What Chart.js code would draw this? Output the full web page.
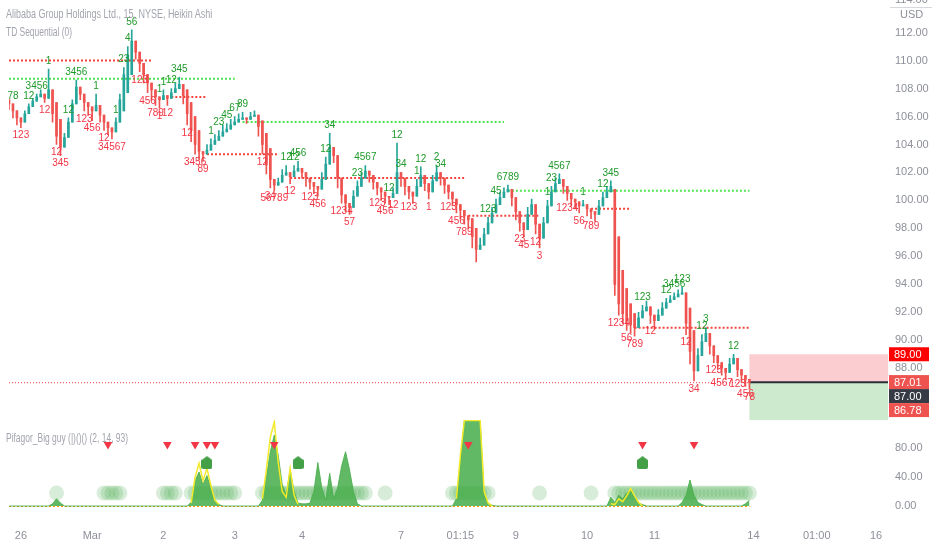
<!DOCTYPE html>
<html>
<head>
<meta charset="utf-8">
<script src="https://cdn.jsdelivr.net/npm/chart.js@4.4.1/dist/chart.umd.min.js"></script>
<style>
html, body { margin: 0; padding: 0; background: #fff; }
#wrap { position: relative; width: 932px; height: 550px; overflow: hidden; }
canvas { display: block; }
.lbl { position: absolute; left: 6px; color: #a2a5ad; font: 12px "Liberation Sans", sans-serif; white-space: nowrap; transform-origin: left center; }
.ax { position: absolute; color: #8d9099; font: 11px "Liberation Sans", sans-serif; white-space: nowrap; }
</style>
</head>
<body>
<div id="wrap">
  <canvas id="chart" width="932" height="550"></canvas>
  <div class="lbl" style="top:7px" data-w="206">Alibaba Group Holdings Ltd., 15, NYSE, Heikin Ashi</div>
  <div class="lbl" style="top:25px" data-w="66">TD Sequential (0)</div>
  <div class="lbl" style="top:431px" data-w="122">Pifagor_Big guy (|)()() (2, 14, 93)</div>
  <div class="ax" style="left:895px;top:-7px">114.00</div>
  <div style="position:absolute;left:890px;top:7px;width:42px;height:1px;background:#d6d8de"></div>
  <div class="ax" style="left:900px;top:8px">USD</div>
</div>
<script>
// x axis: bar slots (15 min bars, last part is empty future space)
const slots = 223;
const dateTicks = [[3, '26'], [21, 'Mar'], [39, '2'], [57, '3'], [74, '4'], [99, '7'], [114, '01:15'],
    [128, '9'], [146, '10'], [163, '11'], [188, '14'], [204, '01:00'], [219, '16']];

// Heikin Ashi bars: open, close, wick end (low for red bars, high for teal bars)
const openP = [
    107.2, 106.9, 106.4, 105.9, 105.6, 106.2, 106.7, 107.1, 107.4, 107.6,
    107.3, 107.9, 107.0, 105.8, 103.8, 104.5, 105.6, 106.9, 108.1, 107.6,
    107.0, 106.7, 106.4, 106.8, 106.1, 105.6, 105.2, 104.9, 105.6, 106.4,
    107.7, 109.0, 111.4, 110.6, 109.8, 109.0, 108.4, 107.9, 107.4, 107.2,
    107.5, 107.3, 107.7, 108.0, 108.3, 107.9, 107.0, 106.0, 105.0, 103.5,
    103.3, 103.6, 104.0, 104.3, 104.6, 104.9, 105.1, 105.4, 105.6, 105.8,
    105.9, 105.8, 106.0, 106.1, 105.7, 104.8, 103.7, 101.5, 101.1, 101.3,
    101.8, 102.0, 101.7, 102.1, 102.3, 102.0, 101.6, 101.3, 101.0, 100.8,
    101.5, 102.6, 103.8, 103.2, 101.6, 100.4, 99.8, 99.5, 100.3, 101.0,
    101.6, 102.1, 101.8, 101.3, 100.9, 100.6, 100.3, 100.2, 100.5, 102.0,
    101.6, 101.0, 100.6, 100.3, 101.0, 101.8, 101.2, 100.6, 101.4, 102.0,
    101.6, 101.1, 100.6, 100.1, 99.7, 99.3, 98.9, 98.7, 98.0, 96.5,
    96.8, 97.6, 98.4, 99.1, 99.7, 100.2, 100.6, 100.8, 100.2, 99.2,
    98.4, 97.9, 99.0, 99.7, 98.3, 97.3, 98.4, 99.6, 100.6, 101.2,
    101.5, 101.0, 100.5, 100.1, 99.9, 99.6, 99.7, 99.4, 99.2, 99.0,
    99.6, 100.2, 100.6, 100.8, 97.4, 95.0, 93.7, 92.6, 91.9, 90.9,
    91.6, 92.1, 92.4, 91.8, 91.4, 91.8, 92.3, 92.7, 92.9, 93.1,
    93.3, 93.4, 92.3, 90.7, 87.8, 88.9, 89.9, 90.5, 89.6, 88.9,
    88.4, 88.0, 87.7, 88.3, 88.7, 87.9, 87.5, 87.2
];
const closeP = [
    106.9, 106.4, 105.9, 105.6, 106.2, 106.7, 107.1, 107.4, 107.6, 107.3,
    107.9, 106.2, 104.6, 103.8, 104.5, 105.6, 106.9, 108.1, 107.6, 107.0,
    106.7, 106.4, 106.8, 106.1, 105.6, 105.2, 104.9, 105.6, 107.2, 109.0,
    110.4, 111.4, 110.6, 109.8, 109.0, 108.4, 107.9, 107.4, 107.2, 107.5,
    107.3, 107.7, 108.0, 108.3, 107.5, 106.2, 105.0, 104.0, 103.5, 103.3,
    103.6, 104.0, 104.3, 104.6, 104.9, 105.1, 105.4, 105.6, 105.8, 105.9,
    105.8, 106.0, 106.1, 105.3, 104.0, 102.6, 101.5, 101.1, 101.3, 101.8,
    102.0, 101.7, 102.1, 102.3, 102.0, 101.6, 101.3, 101.0, 100.8, 101.5,
    102.6, 103.8, 103.2, 101.6, 100.4, 99.8, 99.5, 100.3, 101.0, 101.6,
    102.1, 101.8, 101.3, 100.9, 100.6, 100.3, 100.2, 100.5, 102.0, 101.6,
    101.0, 100.6, 100.3, 101.0, 101.8, 101.2, 100.6, 101.4, 102.0, 101.6,
    101.1, 100.6, 100.1, 99.7, 99.3, 98.9, 98.6, 97.4, 96.5, 96.8,
    97.6, 98.4, 99.1, 99.7, 100.2, 100.6, 100.8, 100.2, 99.2, 98.4,
    97.9, 99.0, 99.7, 98.3, 97.3, 98.4, 99.6, 100.6, 101.2, 101.5,
    101.0, 100.5, 100.1, 99.9, 99.6, 99.7, 99.4, 99.2, 99.0, 99.6,
    100.2, 100.6, 101.0, 94.0, 92.6, 91.9, 91.4, 91.1, 90.9, 91.6,
    92.1, 92.4, 91.8, 91.4, 91.8, 92.3, 92.7, 92.9, 93.1, 93.3,
    93.4, 91.2, 89.2, 87.8, 88.9, 89.9, 90.5, 89.6, 88.9, 88.4,
    88.0, 87.7, 88.3, 88.7, 87.9, 87.5, 87.2, 87.0
];
const wickP = [
    106.5, 105.9, 105.4, 105.2, 106.4, 106.9, 107.3, 107.6, 107.9, 107.0,
    109.4, 105.6, 104.0, 103.2, 104.8, 105.9, 107.2, 108.6, 107.2, 106.4,
    106.1, 105.7, 107.6, 105.6, 105.0, 104.7, 104.4, 105.9, 107.6, 109.5,
    111.0, 112.2, 110.1, 109.2, 108.4, 107.7, 107.2, 106.8, 106.6, 107.9,
    106.8, 108.0, 108.4, 108.8, 106.9, 105.4, 104.2, 103.3, 102.9, 102.8,
    104.0, 104.4, 104.7, 105.0, 105.4, 105.5, 105.8, 106.0, 106.2, 106.3,
    105.5, 106.3, 106.4, 104.6, 103.3, 101.9, 100.9, 100.7, 101.6, 102.2,
    102.5, 101.2, 102.5, 102.8, 101.6, 101.0, 100.8, 100.5, 100.3, 102.0,
    103.1, 104.8, 102.7, 100.9, 99.8, 99.2, 99.0, 100.7, 101.4, 102.0,
    102.5, 101.3, 100.8, 100.4, 100.0, 99.8, 99.7, 100.9, 104.1, 101.0,
    100.4, 100.1, 99.8, 101.5, 102.4, 100.7, 100.1, 101.8, 102.5, 101.1,
    100.5, 100.1, 99.6, 99.1, 98.7, 98.3, 98.0, 96.6, 95.6, 97.3,
    98.0, 98.8, 99.5, 100.1, 100.6, 100.9, 101.1, 99.6, 98.6, 97.8,
    97.4, 99.5, 100.1, 97.6, 96.6, 98.8, 100.0, 101.0, 101.6, 101.9,
    100.5, 100.0, 99.6, 99.4, 99.1, 100.0, 98.9, 98.7, 98.5, 100.0,
    100.6, 101.0, 101.4, 93.2, 91.8, 91.2, 90.7, 90.5, 90.3, 92.0,
    92.5, 92.8, 91.2, 90.8, 92.2, 92.7, 93.0, 93.2, 93.4, 93.6,
    93.8, 90.4, 88.3, 87.1, 89.4, 90.4, 90.9, 89.0, 88.4, 87.9,
    87.5, 87.2, 88.7, 89.0, 87.4, 87.0, 86.7, 86.5
];

// dotted support / resistance levels: [from bar, to bar, price, colour]
const levels = [
    [0, 36, 110.0, 'r'], [0, 57, 108.7, 'g'], [41, 50, 107.4, 'r'], [50, 68, 103.3, 'r'],
    [59, 125, 105.6, 'g'], [71, 115, 101.6, 'r'], [116, 134, 98.9, 'r'], [126, 187, 100.7, 'g'],
    [147, 157, 99.4, 'r'], [158, 187, 90.9, 'r']
];

// TD Sequential counts: [bar, text, colour]
const tdCounts = [
    [1, '78', 'g'], [5, '12', 'g'], [7, '3456', 'g'], [10, '1', 'g'], [15, '12', 'g'], [17, '3456', 'g'],
    [22, '1', 'g'], [27, '1', 'g'], [29, '23', 'g'], [30, '4', 'g'], [31, '56', 'g'], [38, '1', 'g'],
    [39, '1', 'g'], [41, '12', 'g'], [43, '345', 'g'], [51, '1', 'g'], [53, '23', 'g'], [55, '45', 'g'],
    [57, '67', 'g'], [59, '89', 'g'], [70, '12', 'g'], [72, '12', 'g'], [73, '456', 'g'], [80, '12', 'g'],
    [81, '34', 'g'], [88, '23', 'g'], [90, '4567', 'g'], [96, '12', 'g'], [98, '12', 'g'], [99, '34', 'g'],
    [103, '1', 'g'], [104, '12', 'g'], [108, '2', 'g'], [109, '34', 'g'], [121, '123', 'g'], [123, '45', 'g'],
    [126, '6789', 'g'], [136, '1', 'g'], [137, '23', 'g'], [139, '4567', 'g'], [145, '1', 'g'],
    [150, '12', 'g'], [152, '345', 'g'], [160, '123', 'g'], [166, '12', 'g'], [168, '3456', 'g'],
    [170, '123', 'g'], [175, '12', 'g'], [176, '3', 'g'], [183, '12', 'g'],
    [3, '123', 'r'], [9, '12', 'r'], [12, '12', 'r'], [13, '345', 'r'], [19, '123', 'r'], [21, '456', 'r'],
    [24, '12', 'r'], [26, '34567', 'r'], [33, '123', 'r'], [35, '456', 'r'], [37, '789', 'r'], [38, '1', 'r'],
    [40, '12', 'r'], [45, '12', 'r'], [47, '3456', 'r'], [49, '89', 'r'], [64, '12', 'r'], [66, '34', 'r'],
    [67, '56789', 'r'], [71, '12', 'r'], [76, '123', 'r'], [78, '456', 'r'], [84, '1234', 'r'], [86, '57', 'r'],
    [93, '123', 'r'], [95, '456', 'r'], [97, '12', 'r'], [101, '123', 'r'], [106, '1', 'r'], [111, '123', 'r'],
    [113, '456', 'r'], [115, '789', 'r'], [129, '23', 'r'], [130, '45', 'r'], [133, '12', 'r'], [134, '3', 'r'],
    [141, '1234', 'r'], [144, '56', 'r'], [147, '789', 'r'], [154, '1234', 'r'], [156, '56', 'r'],
    [158, '789', 'r'], [162, '12', 'r'], [171, '12', 'r'], [173, '34', 'r'], [178, '123', 'r'],
    [180, '4567', 'r'], [184, '123', 'r'], [186, '456', 'r'], [187, '78', 'r']
];

// price axis
const priceTicks = [88, 90, 92, 94, 96, 98, 100, 102, 104, 106, 108, 110, 112];
const priceTags = [[89.00, '#ff0000'], [87.01, '#ef5350'], [87.00, '#363a45'], [86.78, '#ef5350']];
const zoneTop = 89.0, zoneMid = 87.0;

// lower indicator (Pifagor_Big guy)
const oscArea = [
    0, 0, 0, 0, 0, 0, 0, 0, 0, 0,
    0, 3, 10, 4, 0, 0, 0, 0, 0, 0,
    0, 0, 0, 0, 0, 0, 0, 0, 0, 0,
    0, 0, 0, 0, 0, 0, 0, 0, 0, 0,
    0, 0, 0, 0, 0, 0, 5, 35, 47, 30,
    42, 25, 8, 2, 0, 0, 0, 0, 0, 0,
    0, 0, 0, 0, 8, 40, 75, 98, 70, 30,
    15, 50, 20, 4, 3, 3, 4, 20, 60, 25,
    8, 45, 10, 25, 55, 75, 50, 20, 3, 0,
    0, 0, 0, 0, 0, 0, 0, 0, 0, 0,
    0, 0, 0, 0, 0, 0, 0, 0, 0, 0,
    0, 0, 0, 10, 60, 118, 118, 118, 118, 118,
    15, 4, 1, 0, 0, 0, 0, 0, 0, 0,
    0, 0, 0, 0, 0, 0, 0, 0, 0, 0,
    0, 0, 0, 0, 0, 0, 0, 0, 0, 0,
    0, 0, 12, 5, 15, 10, 18, 22, 12, 4,
    2, 0, 0, 0, 0, 0, 0, 0, 0, 0,
    5, 15, 36, 15, 5, 2, 0, 0, 0, 0,
    0, 0, 0, 0, 0, 0, 3, 8
];
const oscLine = [
    null, null, null, null, null, null, null, null, null, null,
    null, null, null, null, null, null, null, null, null, null,
    null, null, null, null, null, null, null, null, null, null,
    null, null, null, null, null, null, null, null, null, null,
    null, null, null, null, null, null, 4, 40, 59, 35,
    52, 28, 8, 2, null, null, null, null, null, null,
    null, null, null, null, 10, 50, 95, 116, 60, 20,
    12, 52, 15, 2, null, null, null, null, null, null,
    null, null, null, null, null, null, null, null, null, null,
    null, null, null, null, null, null, null, null, null, null,
    null, null, null, null, null, null, null, null, null, null,
    null, null, null, 10, 70, 118, 118, 118, 118, 118,
    20, 4, 0, null, null, null, null, null, null, null,
    null, null, null, null, null, null, null, null, null, null,
    null, null, null, null, null, null, null, null, null, null,
    null, null, 3, 2, 10, 6, 14, 24, 14, 5,
    0, null, null, null, null, null, null, null, null, null,
    null, null, null, null, null, null, null, null, null, null,
    null, null, null, null, null, null, null, null
];
const circleRuns = [[12, 12], [24, 28], [39, 42], [46, 57], [64, 90], [95, 95], [112, 121], [134, 134], [147, 147], [153, 187]];
const circleLevel = 18;
const sellIdx = [25, 40, 47, 50, 52, 67, 116, 160, 173];
const sellLevel = 85;
const buyIdx = [50, 73, 160];
const buyLevel = 60;
const oscTicks = [0, 40, 80];

const RED = '#ef5350', TEAL = '#26a69a';
const labels = [];
for (let i = 0; i < slots; i++) labels.push('');
dateTicks.forEach(t => labels[t[0]] = t[1]);

function perSlot(fn) {
    return labels.map((_, i) => fn(i));
}
const inData = i => i < closeP.length;
const barColor = ctx => closeP[ctx.dataIndex] >= openP[ctx.dataIndex] ? TEAL : RED;

// green "house" marker for the buy signal
const house = document.createElement('canvas');
house.width = 11; house.height = 13;
const hc = house.getContext('2d');
hc.fillStyle = '#43a047';
hc.beginPath();
hc.moveTo(5.5, 0); hc.lineTo(11, 4); hc.lineTo(11, 11); hc.quadraticCurveTo(11, 13, 9, 13);
hc.lineTo(2, 13); hc.quadraticCurveTo(0, 13, 0, 11); hc.lineTo(0, 4); hc.closePath(); hc.fill();

const circleData = perSlot(() => null);
circleRuns.forEach(r => { for (let i = r[0]; i <= r[1]; i++) circleData[i] = circleLevel; });

const datasets = [
    { type: 'line', yAxisID: 'y2', data: perSlot(i => sellIdx.includes(i) ? sellLevel : null), showLine: false,
      pointStyle: 'triangle', rotation: 180, pointRadius: 5, pointBackgroundColor: '#f23645', pointBorderWidth: 0 },
    { type: 'line', yAxisID: 'y2', data: perSlot(i => buyIdx.includes(i) ? buyLevel : null), showLine: false,
      pointStyle: house, pointRadius: 6 },
    { type: 'line', yAxisID: 'y2', data: perSlot(i => inData(i) ? oscLine[i] : null), borderColor: '#f2ea2a',
      borderWidth: 1.5, pointRadius: 0, fill: false, spanGaps: false },
    { type: 'line', yAxisID: 'y2', data: perSlot(i => inData(i) ? oscArea[i] : null), borderColor: 'rgba(76,175,80,0.9)',
      backgroundColor: 'rgba(76,175,80,0.88)', borderWidth: 1, pointRadius: 0, fill: 'origin' },
    { type: 'line', yAxisID: 'y2', data: circleData, showLine: false, pointRadius: 7.5,
      pointBackgroundColor: 'rgba(76,175,80,0.22)', pointBorderWidth: 0 },
    { type: 'bar', yAxisID: 'y', data: perSlot(i => inData(i) ? [openP[i], closeP[i]] : null),
      backgroundColor: barColor, barThickness: 2, grouped: false, borderWidth: 0 },
    { type: 'bar', yAxisID: 'y', data: perSlot(i => inData(i) ? [openP[i], wickP[i]] : null),
      backgroundColor: barColor, barThickness: 1, grouped: false, borderWidth: 0 }
];
levels.forEach(l => datasets.push({
    type: 'line', yAxisID: 'y', data: perSlot(i => i >= l[0] && i <= l[1] ? l[2] : null),
    borderColor: l[3] === 'r' ? '#f5443c' : '#4fe24f', borderWidth: 2, borderDash: [2, 2],
    pointRadius: 0, fill: false
}));

const FONT = '"Liberation Sans", sans-serif';

const extras = {
    id: 'extras',
    beforeDatasetsDraw(chart) {
        const { ctx, scales: { x, y, y2 } } = chart;
        const last = closeP.length - 1;
        const x0 = x.getPixelForValue(last), x1 = chart.chartArea.right;
        ctx.save();
        ctx.fillStyle = 'rgba(242,54,69,0.25)';
        ctx.fillRect(x0, y.getPixelForValue(zoneTop), x1 - x0, y.getPixelForValue(zoneMid) - y.getPixelForValue(zoneTop));
        ctx.fillStyle = 'rgba(76,175,80,0.28)';
        ctx.fillRect(x0, y.getPixelForValue(zoneMid), x1 - x0, y.bottom - y.getPixelForValue(zoneMid));
        // last price dotted line
        ctx.strokeStyle = '#f23645';
        ctx.lineWidth = 1;
        ctx.setLineDash([1, 2]);
        ctx.beginPath();
        ctx.moveTo(x.left, y.getPixelForValue(zoneMid) + 0.5);
        ctx.lineTo(x0, y.getPixelForValue(zoneMid) + 0.5);
        ctx.stroke();
        // zero line of the indicator
        ctx.strokeStyle = '#ff9800';
        ctx.setLineDash([2, 2]);
        ctx.beginPath();
        ctx.moveTo(x.left, y2.getPixelForValue(0) + 0.5);
        ctx.lineTo(x0, y2.getPixelForValue(0) + 0.5);
        ctx.stroke();
        ctx.setLineDash([]);
        ctx.strokeStyle = '#2a2e39';
        ctx.lineWidth = 2;
        ctx.beginPath();
        ctx.moveTo(x0, y.getPixelForValue(zoneMid));
        ctx.lineTo(x1, y.getPixelForValue(zoneMid));
        ctx.stroke();
        ctx.restore();
    },
    afterDatasetsDraw(chart) {
        const { ctx, scales: { x, y } } = chart;
        ctx.save();
        ctx.font = '10px ' + FONT;
        ctx.textAlign = 'center';
        tdCounts.forEach(t => {
            const i = t[0];
            const hi = Math.max(openP[i], closeP[i], wickP[i]);
            const lo = Math.min(openP[i], closeP[i], wickP[i]);
            const px = x.getPixelForValue(i);
            if (t[2] === 'g') {
                ctx.fillStyle = '#1f9a2a';
                ctx.textBaseline = 'bottom';
                ctx.fillText(t[1], px, y.getPixelForValue(hi) - 3);
            } else {
                ctx.fillStyle = '#f23645';
                ctx.textBaseline = 'top';
                ctx.fillText(t[1], px, y.getPixelForValue(lo) + 3);
            }
        });
        ctx.restore();
    },
    afterDraw(chart) {
        const { ctx, scales: { y } } = chart;
        ctx.save();
        ctx.font = '11px ' + FONT;
        ctx.textBaseline = 'middle';
        let prev = -100;
        priceTags.forEach(p => {
            const py = Math.max(y.getPixelForValue(p[0]), prev + 14);
            prev = py;
            ctx.fillStyle = p[1];
            ctx.fillRect(y.left + 1, py - 7, 40, 14);
            ctx.fillStyle = '#fff';
            ctx.fillText(p[0].toFixed(2), y.left + 6, py + 0.5);
        });
        ctx.restore();
    }
};

const axisTicks = list => s => { s.ticks = list.map(v => ({ value: v })); };

new Chart(document.getElementById('chart'), {
    data: { labels: labels, datasets: datasets },
    options: {
        responsive: false,
        devicePixelRatio: 1,
        animation: false,
        layout: { padding: 0 },
        plugins: { legend: { display: false }, tooltip: { enabled: false } },
        scales: {
            x: {
                type: 'category', offset: false,
                grid: { display: false, drawTicks: false }, border: { display: false },
                ticks: { autoSkip: false, maxRotation: 0, padding: 9, color: '#8d9099', font: { family: FONT, size: 11 },
                         callback: (v, i) => labels[i] },
                afterFit: s => { s.height = 30; }
            },
            y: {
                type: 'linear', position: 'right', stack: 'panes', stackWeight: 407,
                min: 84.29, max: 113.36,
                grid: { display: false, drawTicks: false }, border: { display: false },
                afterBuildTicks: axisTicks(priceTicks),
                ticks: { padding: 7, color: '#8d9099', font: { family: FONT, size: 11 }, callback: v => v.toFixed(2) },
                afterFit: s => { s.width = 44; }
            },
            y2: {
                type: 'linear', position: 'right', stack: 'panes', stackWeight: 100,
                min: -19.3, max: 118.6,
                grid: { display: false, drawTicks: false }, border: { display: false },
                afterBuildTicks: axisTicks(oscTicks),
                ticks: { padding: 7, color: '#8d9099', font: { family: FONT, size: 11 }, callback: v => v.toFixed(2) },
                afterFit: s => { s.width = 44; }
            }
        }
    },
    plugins: [extras]
});

// squeeze the pane titles to the width they have in the picture
document.querySelectorAll('.lbl').forEach(d => {
    const r = (+d.dataset.w) / d.scrollWidth;
    d.style.transform = 'scaleX(' + r.toFixed(3) + ')';
});
</script>
</body>
</html>
